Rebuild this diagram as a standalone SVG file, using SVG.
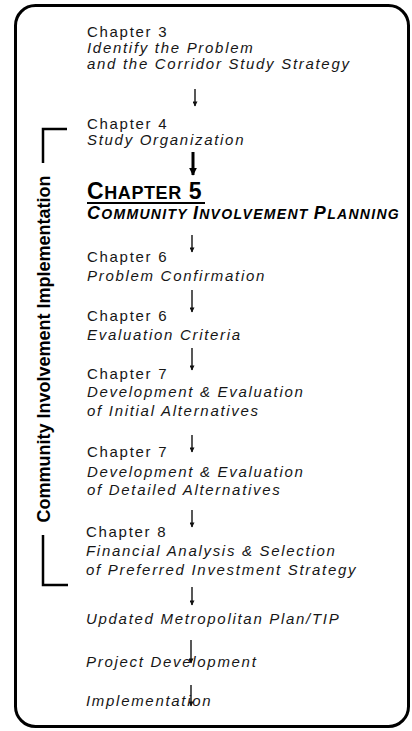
<svg xmlns="http://www.w3.org/2000/svg" width="412" height="731" viewBox="0 0 412 731">
  <defs>
    <!-- arrowheads are drawn along +x so orient="auto" turns them along each line -->
    <marker id="head" viewBox="0 0 10 10" refX="9" refY="5" markerWidth="6" markerHeight="5" markerUnits="userSpaceOnUse" orient="auto">
      <path d="M0,0 L10,5 L0,10 Z" fill="#111"/>
    </marker>
    <marker id="headBold" viewBox="0 0 10 10" refX="9" refY="5" markerWidth="8" markerHeight="8" markerUnits="userSpaceOnUse" orient="auto">
      <path d="M0,0 L10,5 L0,10 Z" fill="#000"/>
    </marker>
    <style>
      .t { font-family: "Liberation Sans", Arial, sans-serif; font-size: 15px; fill: #161616; letter-spacing: 1.7px; }
      .i { font-style: italic; }
      .b { font-weight: bold; fill: #000; }
      .arrow { stroke: #111; stroke-width: 1.4; fill: none; marker-end: url(#head); }
      .arrowBold { stroke: #000; stroke-width: 3; fill: none; marker-end: url(#headBold); }
      .frame { fill: #fff; stroke: #000; stroke-width: 3; }
      .bracket { fill: none; stroke: #000; stroke-width: 2.5; }
    </style>
  </defs>

  <rect class="frame" x="15.5" y="5.5" width="393" height="721" rx="20" ry="20"/>

  <!-- side bracket with its label -->
  <g id="involvement-bracket">
    <polyline class="bracket" points="67,129 43,129 43,163"/>
    <polyline class="bracket" points="43,535 43,585 68,585"/>
    <text class="t b" style="font-size:18px;letter-spacing:0" text-anchor="middle" transform="translate(50,349) rotate(-90)">Community Involvement Implementation</text>
  </g>

  <g id="ch3">
    <text class="t" x="87" y="37">Chapter 3</text>
    <text class="t i" x="87" y="53">Identify the Problem</text>
    <text class="t i" x="87" y="69">and the Corridor Study Strategy</text>
  </g>
  <g id="ch4">
    <text class="t" x="87" y="129">Chapter 4</text>
    <text class="t i" x="87" y="145">Study Organization</text>
  </g>
  <g id="ch5">
    <text class="t b" x="87" y="199" style="letter-spacing:0.6px"><tspan style="font-size:23px">C</tspan><tspan style="font-size:18px">HAPTER</tspan><tspan style="font-size:23px"> 5</tspan></text>
    <line x1="87" y1="203" x2="205" y2="203" stroke="#000" stroke-width="2"/>
    <text class="t b i" x="87" y="219" style="letter-spacing:1.3px"><tspan style="font-size:18px">C</tspan><tspan style="font-size:14px">OMMUNITY </tspan><tspan style="font-size:18px">I</tspan><tspan style="font-size:14px">NVOLVEMENT </tspan><tspan style="font-size:18px">P</tspan><tspan style="font-size:14px">LANNING</tspan></text>
  </g>
  <g id="ch6a">
    <text class="t" x="87" y="262">Chapter 6</text>
    <text class="t i" x="87" y="281">Problem Confirmation</text>
  </g>
  <g id="ch6b">
    <text class="t" x="87" y="321">Chapter 6</text>
    <text class="t i" x="87" y="340">Evaluation Criteria</text>
  </g>
  <g id="ch7a">
    <text class="t" x="87" y="379">Chapter 7</text>
    <text class="t i" x="87" y="397">Development &amp; Evaluation</text>
    <text class="t i" x="87" y="416">of Initial Alternatives</text>
  </g>
  <g id="ch7b">
    <text class="t" x="87" y="457">Chapter 7</text>
    <text class="t i" x="87" y="477">Development &amp; Evaluation</text>
    <text class="t i" x="87" y="495">of Detailed Alternatives</text>
  </g>
  <g id="ch8">
    <text class="t" x="86" y="537">Chapter 8</text>
    <text class="t i" x="86" y="556">Financial Analysis &amp; Selection</text>
    <text class="t i" x="86" y="575">of Preferred Investment Strategy</text>
  </g>
  <g id="plan">
    <text class="t i" x="86" y="624">Updated Metropolitan Plan/TIP</text>
  </g>
  <g id="project">
    <text class="t i" x="86" y="667">Project Development</text>
  </g>
  <g id="implementation">
    <text class="t i" x="86" y="706">Implementation</text>
  </g>

  <g id="connectors">
    <line class="arrow" x1="195" y1="89" x2="195" y2="106"/>
    <line class="arrowBold" x1="193" y1="152" x2="193" y2="175"/>
    <line class="arrow" x1="192" y1="235" x2="192" y2="252"/>
    <line class="arrow" x1="192" y1="290" x2="192" y2="312"/>
    <line class="arrow" x1="192" y1="348" x2="192" y2="370"/>
    <line class="arrow" x1="192" y1="435" x2="192" y2="452"/>
    <line class="arrow" x1="192" y1="510" x2="192" y2="527"/>
    <line class="arrow" x1="192" y1="587" x2="192" y2="605"/>
    <line class="arrow" x1="191" y1="640" x2="191" y2="663"/>
    <line class="arrow" x1="191" y1="685" x2="191" y2="706"/>
  </g>
</svg>
